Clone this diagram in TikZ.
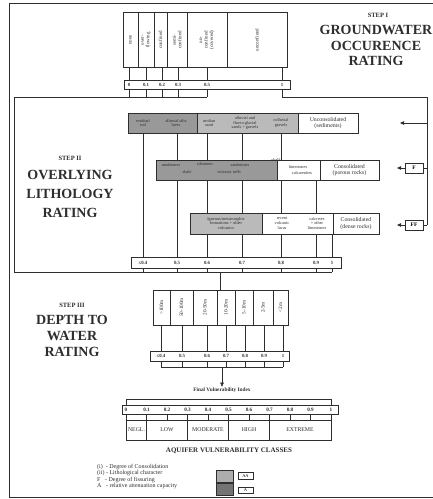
\documentclass[tikz,border=0pt]{standalone}
\usepackage{fontspec}
\setmainfont{Liberation Serif}
\usetikzlibrary{arrows.meta,backgrounds}
\definecolor{darkg}{gray}{0.6}
\definecolor{lightg}{gray}{0.73}
\definecolor{legdark}{gray}{0.45}
\definecolor{leglight}{gray}{0.68}
\definecolor{ink}{gray}{0.18}
\begin{document}
\begin{tikzpicture}[x=1pt,y=-1pt,
  ln/.style={draw=ink, line width=0.45pt},
  boxln/.style={draw=ink, line width=0.9pt},
  cell/.style={draw=ink, line width=0.6pt, inner sep=0pt},
  vtxt/.style={rotate=90, font=\fontsize{5}{5.4}\selectfont, align=center, inner sep=0pt, text=ink},
  rtxt/.style={font=\fontsize{4.3}{4.7}\selectfont, align=center, inner sep=0pt, text=ink},
  cattxt/.style={font=\fontsize{5.8}{6.3}\selectfont, align=center, inner sep=0pt, text=ink},
  val/.style={font=\fontsize{4.8}{5}\selectfont\bfseries, inner sep=0pt, text=ink},
  bigttl/.style={font=\fontsize{14}{15.5}\selectfont\bfseries, align=center, text=ink, inner sep=0pt},
  stepttl/.style={font=\fontsize{6.5}{7}\selectfont\bfseries, inner sep=0pt, text=ink},
  clstxt/.style={font=\fontsize{5.8}{6}\selectfont, inner sep=0pt, text=ink},
  arr/.style={-{Triangle[length=4pt,width=3.5pt]}},
]
\useasboundingbox (0,0) rectangle (433,499);
% outer frame
\draw[ln, line width=0.8pt] (433,3) -- (9.5,3) -- (9.5,497) -- (433,497);

% ---------------- STEP I
\node[stepttl] (s1) at (378,15) {STEP I};
\node[bigttl] (t1) at (376,45.5) {GROUNDWATER\\OCCURENCE\\RATING};
\node[boxln, minimum width=164pt, minimum height=55pt, inner sep=0pt] (gbox) at (205,39.5) {};
\foreach \x in {138,154,167,187,227} \draw[ln, line width=0.6pt] (\x,12) -- (\x,67);
\node[vtxt] (gc1) at (130.5,40) {none};
\node[vtxt] (gc2) at (146,40) {over-\\flowing};
\node[vtxt] (gc3) at (160.5,40) {confined};
\node[vtxt] (gc4) at (177,40) {semi-\\confined};
\node[vtxt] (gc5) at (207,40) {un-\\confined\\(covered)};
\node[vtxt] (gc6) at (257,40) {unconfined};

\node[cell, minimum width=166pt, minimum height=9pt] (gscale) at (207,84.5) {};
\node[val] (g0) at (129,84.5) {0};
\node[val] (g1) at (146,84.5) {0.1};
\node[val] (g2) at (162,84.5) {0.2};
\node[val] (g3) at (178,84.5) {0.3};
\node[val] (g4) at (207,84.5) {0.5};
\node[val] (g5) at (282,84.5) {1};
\foreach \n in {g0,g1,g2,g3,g4,g5} \draw[ln] (\n |- gbox.south) -- (\n |- gscale.north);

% ---------------- STEP II frame
\coordinate (fTL) at (14,97);
\coordinate (fBL) at (14,272);
\coordinate (fR) at (427,97);
\foreach \n in {g0,g1,g2,g3,g4} \draw[ln] (\n |- gscale.south) -- (\n |- fTL);

\node[stepttl] (s2) at (70,158) {STEP II};
\node[bigttl, font=\fontsize{14}{19}\selectfont\bfseries] (t2) at (70,194) {OVERLYING\\LITHOLOGY\\RATING};

% row 1
\node[cell, fill=darkg, minimum width=69pt, minimum height=20pt] (r1a) at (162.5,123) {};
\node[cell, fill=lightg, minimum width=101pt, minimum height=20pt] (r1b) at (247.5,123) {};
\node[cell, fill=white, minimum width=60pt, minimum height=20pt, cattxt] (r1c) at (328,123) {Unconsolidated\\(sediments)};
\node[rtxt] (l11) at (143,123) {residual\\soil};
\node[rtxt] (l12) at (176,123) {alluvial silts\\loess};
\node[rtxt] (l13) at (209,123) {aeolian\\sand};
\node[rtxt] (l14) at (245,123) {alluvial and\\fluvio-glacial\\sands + gravels};
\node[rtxt] (l15) at (281,123) {colluvial\\gravels};

% row 2
\node[cell, fill=darkg, minimum width=121pt, minimum height=20pt] (r2a) at (216.5,170) {};
\node[cell, fill=white, minimum width=43pt, minimum height=20pt] (r2b) at (298.5,170) {};
\node[cell, fill=white, minimum width=59pt, minimum height=20pt, cattxt] (r2c) at (349.5,170) {Consolidated\\(porous rocks)};
\node[rtxt] (l21) at (171,165.5) {mudstones};
\node[rtxt] (l22) at (187,172) {shale};
\node[rtxt] (l23) at (205,164.5) {siltstones};
\node[rtxt] (l24) at (229,172) {volcanic tuffs};
\node[rtxt] (l25) at (240,165.5) {sandstones};
\node[rtxt] (l26) at (276,160.5) {chalk};
\node[rtxt] (l27) at (298,167) {limestones};
\node[rtxt] (l28) at (302,173) {calcarenites};

% row 3
\node[cell, fill=lightg, minimum width=72pt, minimum height=21pt] (r3a) at (226,223.5) {};
\node[cell, fill=white, minimum width=71pt, minimum height=21pt] (r3b) at (297.5,223.5) {};
\node[cell, fill=white, minimum width=46pt, minimum height=21pt, cattxt] (r3c) at (356,223.5) {Consolidated\\(dense rocks)};
\node[rtxt] (l31) at (226,223.5) {Igneous/metamorphic\\formations + older\\volcanics};
\node[rtxt] (l32) at (282,223.5) {recent\\volcanic\\lavas};
\node[rtxt] (l33) at (317,223.5) {calcretes\\+ other\\limestones};

% right side inputs
\node[cell, minimum width=18pt, minimum height=10pt, font=\fontsize{5.5}{6}\selectfont\bfseries] (fbox) at (414,168) {F};
\node[cell, minimum width=18pt, minimum height=10pt, font=\fontsize{5.5}{6}\selectfont\bfseries] (ffbox) at (414,225) {FF};
\coordinate (a1) at (400,123);
\coordinate (a2) at (397,168);
\coordinate (a3) at (397,225);
\draw[ln] (g5 |- gscale.south) -- (g5 |- fTL) -- (fR) -- (fR |- ffbox.east);
\draw[ln, arr] (fR |- a1) -- (a1);
\draw[ln] (fR |- fbox.east) -- (fbox.east);
\draw[ln, arr] (fbox.west) -- (a2);
\draw[ln] (fR |- ffbox.east) -- (ffbox.east);
\draw[ln, arr] (ffbox.west) -- (a3);

% step II scale
\node[cell, minimum width=210pt, minimum height=11pt] (oscale) at (236,262.5) {};
\node[val] (o0) at (143,262.5) {≤0.4};
\node[val] (o1) at (177,262.5) {0.5};
\node[val] (o2) at (207,262.5) {0.6};
\node[val] (o3) at (242,262.5) {0.7};
\node[val] (o4) at (281,262.5) {0.8};
\node[val] (o5) at (316,262.5) {0.9};
\node[val] (o6) at (332,262.5) {1};
\begin{scope}[on background layer]
\foreach \n in {o0,o1,o2,o3,o4} \draw[ln] (\n |- r1a.south) -- (\n |- oscale.north);
\draw[ln] (o5 |- r2a.south) -- (o5 |- oscale.north);
\draw[ln] (o6 |- r3a.south) -- (o6 |- oscale.north);
\end{scope}
\foreach \n in {o0,o1,o2,o3,o4,o5,o6} \draw[ln] (\n |- oscale.south) -- (\n |- fBL);
\draw[ln] (g4 |- fTL) -- (fTL) -- (fBL) -- (o6 |- fBL);

% ---------------- STEP III
\node[stepttl] (s3) at (72,305) {STEP III};
\node[bigttl, font=\fontsize{14}{16}\selectfont\bfseries] (t3) at (72,336) {DEPTH TO\\WATER\\RATING};
\node[boxln, minimum width=135pt, minimum height=35pt, inner sep=0pt] (dbox) at (220.5,307.5) {};
\foreach \x in {170,193,217,235,253,273} \draw[ln, line width=0.6pt] (\x,290) -- (\x,325);
\coordinate (j2) at (220,272);
\draw[ln] (j2) -- (j2 |- dbox.north);
\node[vtxt, font=\fontsize{5.2}{5.6}\selectfont] (dc1) at (161.5,307.5) {>100m};
\node[vtxt, font=\fontsize{5.2}{5.6}\selectfont] (dc2) at (181.5,307.5) {50-100m};
\node[vtxt, font=\fontsize{5.2}{5.6}\selectfont] (dc3) at (205,307.5) {20-50m};
\node[vtxt, font=\fontsize{5.2}{5.6}\selectfont] (dc4) at (226,307.5) {10-20m};
\node[vtxt, font=\fontsize{5.2}{5.6}\selectfont] (dc5) at (244,307.5) {5-10m};
\node[vtxt, font=\fontsize{5.2}{5.6}\selectfont] (dc6) at (263,307.5) {2-5m};
\node[vtxt, font=\fontsize{5.2}{5.6}\selectfont] (dc7) at (280.5,307.5) {<2m};

\node[cell, minimum width=139pt, minimum height=10pt] (dscale) at (219.5,356) {};
\node[val] (d0) at (161,356) {≤0.4};
\node[val] (d1) at (182,356) {0.5};
\node[val] (d2) at (207,356) {0.6};
\node[val] (d3) at (226,356) {0.7};
\node[val] (d4) at (245,356) {0.8};
\node[val] (d5) at (264,356) {0.9};
\node[val] (d6) at (283,356) {1};
\coordinate (j3) at (222,367);
\foreach \n in {d0,d1,d2,d3,d4,d5,d6} {
  \draw[ln] (\n |- dbox.south) -- (\n |- dscale.north);
  \draw[ln] (\n |- dscale.south) -- (\n |- j3);
}
\draw[ln] (d0 |- j3) -- (d6 |- j3);

% ---------------- final index
\node[font=\fontsize{5.3}{6}\selectfont\bfseries, inner sep=0pt, text=ink] (fvi) at (222,390.5) {Final Vulnerability Index};
\draw[ln, arr, shorten >=1.2pt] (j3) -- (fvi.north);

\node[cell, minimum width=216pt, minimum height=9pt] (fscale) at (230,409.5) {};
\foreach \i/\t in {0/0,1/0.1,2/0.2,3/0.3,4/0.4,5/0.5,6/0.6,7/0.7,8/0.8,9/0.9,10/1}
  \node[val, font=\fontsize{5.2}{5.5}\selectfont\bfseries] (v\i) at (126+20.5*\i,409.5) {\t};
\coordinate (jb) at (0,399);
\draw[ln] (v0 |- fscale.north) -- (v0 |- jb) -- (v10 |- jb) -- (v10 |- fscale.north);

\node[cell, minimum width=205pt, minimum height=20pt] (cbox) at (228.5,430) {};
\foreach \i in {0,...,10} \draw[ln] (v\i |- fscale.south) -- (v\i |- cbox.north);
\foreach \i in {1,3,5,7} \draw[ln] (v\i |- cbox.north) -- (v\i |- cbox.south);
\node[clstxt] (c1) at (136.5,430) {NEGL.};
\node[clstxt] (c2) at (167,430) {LOW};
\node[clstxt] (c3) at (208,430) {MODERATE};
\node[clstxt] (c4) at (249,430) {HIGH};
\node[clstxt] (c5) at (300,430) {EXTREME};

\node[font=\fontsize{7}{8}\selectfont\bfseries, inner sep=0pt, text=ink] (avc) at (229,451) {AQUIFER VULNERABILITY CLASSES};

% legend
\node[anchor=west, align=left, inner sep=0pt, text=ink, font=\fontsize{6}{5.4}\selectfont] (leg) at (97,476.5)
  {(i) \ - Degree of Consolidation\\(ii) - Lithological character\\F \ \ - Degree of fissuring\\A \ \ - relative attenuation capacity};
\node[cell, fill=leglight, minimum width=17pt, minimum height=12pt] (lg1) at (224.5,476) {};
\node[cell, fill=legdark, minimum width=17pt, minimum height=12pt] (lg2) at (224.5,489) {};
\node[cell, minimum width=15pt, minimum height=6.5pt, font=\fontsize{4.5}{5}\selectfont] (lg3) at (245.5,476) {AA};
\node[cell, minimum width=15pt, minimum height=6.5pt, font=\fontsize{4.5}{5}\selectfont] (lg4) at (245.5,490.5) {A};
\end{tikzpicture}
\end{document}
